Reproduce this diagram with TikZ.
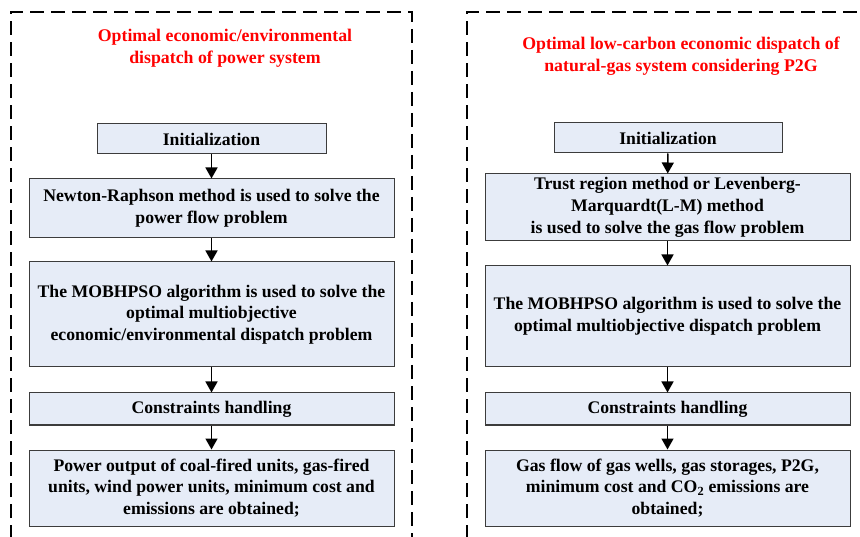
\documentclass[tikz,border=0pt]{standalone}
\usepackage{fontspec}
\setmainfont{Liberation Serif}
\usetikzlibrary{arrows.meta}
\definecolor{boxfill}{RGB}{230,236,247}
\definecolor{boxline}{RGB}{60,60,60}
\begin{document}
\begin{tikzpicture}[x=1pt,y=-1pt,
  txt/.style={font=\bfseries\fontsize{17.7}{21.7}\selectfont, align=center},
  stepbox/.style={txt, draw=boxline, line width=1pt, fill=boxfill, inner sep=0pt},
  title/.style={font=\bfseries\fontsize{17.8}{21.5}\selectfont, align=center, text=red},
  frame/.style={draw=black, line width=1.6pt, dash pattern=on 14pt off 7pt},
  arr/.style={line width=1.5pt, -{Triangle[length=11pt,width=12pt]}}]
\useasboundingbox (0,0) rectangle (860,537);
% frames
\draw[frame] (11,560) -- (11,12) -- (412,12) -- (412,560);
\draw[frame] (467,560) -- (467,12) -- (880,12);
% titles
\node[title] (tL) at (225,48) {Optimal economic/environmental\\dispatch of power system};
\node[title] (tR) at (681,56) {Optimal low-carbon economic dispatch of\\natural-gas system considering P2G};
% left column
\node[stepbox, minimum width=229pt, minimum height=30pt] (iL) at (211.5,139) {Initialization};
\node[stepbox, minimum width=365pt, minimum height=59pt] (nL) at (211.5,208.5) {Newton-Raphson method is used to solve the\\power flow problem};
\node[stepbox, minimum width=365pt, minimum height=105pt] (mL) at (211.5,314.5) {The MOBHPSO algorithm is used to solve the\\optimal multiobjective\\economic/environmental dispatch problem};
\node[stepbox, minimum width=365pt, minimum height=32pt] (cL) at (211.5,409) {Constraints handling};
\node[stepbox, minimum width=365pt, minimum height=76pt] (pL) at (211.5,488) {Power output of coal-fired units, gas-fired\\units, wind power units, minimum cost and\\emissions are obtained;};
% right column
\node[stepbox, minimum width=228pt, minimum height=30pt] (iR) at (668,138) {Initialization};
\node[stepbox, minimum width=365pt, minimum height=67pt] (tRb) at (667.5,207.5) {Trust region method or Levenberg-\\Marquardt(L-M) method\\is used to solve the gas flow problem};
\node[stepbox, minimum width=365pt, minimum height=101pt] (mR) at (667.5,316.5) {The MOBHPSO algorithm is used to solve the\\optimal multiobjective dispatch problem};
\node[stepbox, minimum width=365pt, minimum height=32pt] (cR) at (667.5,409) {Constraints handling};
\node[stepbox, minimum width=365pt, minimum height=76pt] (gR) at (667.5,488) {Gas flow of gas wells, gas storages, P2G,\\minimum cost and CO\textsubscript{2} emissions are\\obtained;};
% arrows
\draw[arr] (iL) -- (nL);
\draw[arr] (nL) -- (mL);
\draw[arr] (mL) -- (cL);
\draw[arr] (cL) -- (pL);
\draw[arr] (iR) -- (tRb);
\draw[arr] (tRb) -- (mR);
\draw[arr] (mR) -- (cR);
\draw[arr] (cR) -- (gR);
\end{tikzpicture}
\end{document}
